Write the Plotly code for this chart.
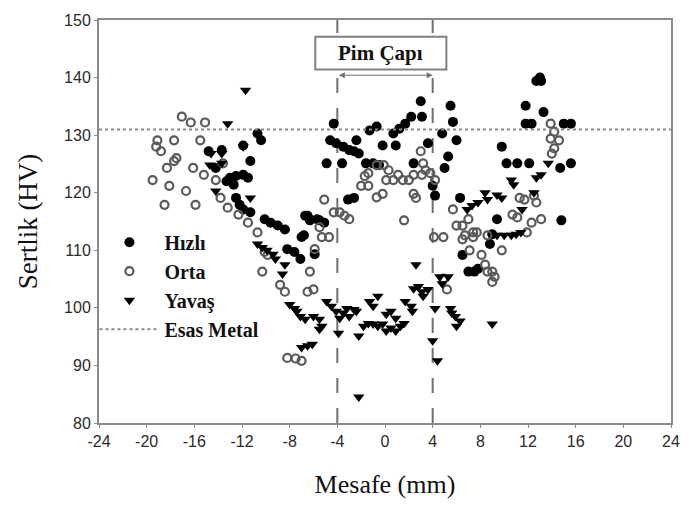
import plotly.graph_objects as go

# ---- data ----
hizli_x = [-14.8, -13.7, -11.9, -10.7, -10.4, -11.3, -13.0, -12.5, -11.9, -11.5, -12.7, -13.3, -14.2,
           -12.5, -12.2, -11.9, -11.3, -10.1, -9.6, -9.0, -8.4, -8.2, -7.6, -7.1, -7.0, -6.7, -6.3,
           -5.7, -5.1, -5.9, -6.5, -6.3, -5.5, -6.8,
           -4.3, -4.6, -4.1, -3.5, -3.0, -2.6, -2.2, -2.4, -4.9, -3.6, -1.6, -1.0, -0.5, -0.7, -1.3,
           -0.2, 0.9, 0.7, 1.2, 1.7, 2.2, 3.1, 3.0, 2.4, 3.6, 4.8, 4.0, 4.2, -2.6, -3.1,
           5.5, 5.7, 6.0, 5.3, 5.0, 6.3, 9.8, 10.2, 11.1, 12.1, 11.8, 12.7, 13.1, 13.0, 13.3, 11.8,
           12.3, 15.0, 15.6, 14.7, 15.6, 9.4, 14.8, 6.5, 7.0, 7.5, 7.8, 9.0, 8.8]
hizli_y = [127.2, 127.4, 128.2, 130.3, 129.1, 125.5, 122.6, 122.9, 123.1, 122.6, 121.4, 122.0, 124.3,
           119.1, 117.9, 117.1, 116.6, 115.4, 114.8, 114.3, 113.6, 110.2, 109.7, 108.5, 112.3, 116.0, 115.2,
           115.4, 114.8, 109.3, 116.0, 115.4, 115.2, 112.6,
           132.0, 129.1, 128.6, 128.0, 127.4, 127.2, 126.8, 129.1, 125.1, 125.1, 125.1, 125.1, 124.8, 131.5, 130.8,
           128.2, 128.2, 130.3, 131.1, 132.0, 133.2, 133.2, 135.9, 125.1, 128.6, 130.3, 121.2, 119.5, 119.1, 118.8,
           135.1, 132.3, 129.1, 126.3, 124.3, 119.1, 128.0, 125.1, 125.1, 125.1, 135.1, 139.4, 139.4, 140.0, 134.0, 132.0,
           132.0, 132.0, 132.0, 124.3, 125.1, 115.4, 115.2, 109.2, 106.3, 106.3, 106.8, 112.8, 111.1]

orta_x = [-17.05, -16.3, -15.1, -19.1, -17.7, -15.5, -19.2, -18.8, -17.5, -17.7, -18.3, -16.1, -15.2,
          -19.5, -18.1, -16.7, -14.2, -13.8, -18.5, -15.9, -13.6,
          -13.2, -12.3, -11.5, -10.7, -10.1, -9.85, -10.3, -8.8, -8.4, -8.2, -7.5, -7.0, -6.5, -6.0,
          -6.3, -5.9, -5.5, -5.3, -4.7, -4.3, -3.8, -3.4, -3.0,
          -1.4, -1.7, -2.0, -1.4, -0.7, -0.1, 0.3, 0.1, 0.7, 1.1, 1.5, 2.0, 2.4, 3.1, 3.4, 3.0, 3.2,
          3.8, 4.2, -0.7, -0.2, 2.4, 1.6, -5.1,
          2.6, 5.7, 4.1, 4.9, 6.5, 7.0, 7.4, 6.7, 8.6, 10.7, 11.1, 11.3, 11.7, 12.5, 12.7, 13.1, 12.3,
          13.9, 14.2, 13.9, 14.6, 14.2, 14.0, 6.0, 6.5, 7.4, 7.7, 7.1, 9.8, 11.9,
          8.1, 8.4, 8.6, 9.0, 9.2, 9.0, 5.2, 4.9]
orta_y = [133.2, 132.2, 132.2, 129.1, 129.1, 129.1, 128.0, 127.2, 126.0, 125.5, 124.3, 124.3, 123.1,
          122.2, 121.2, 120.3, 122.2, 119.1, 117.9, 117.9, 125.1,
          117.4, 116.2, 114.8, 113.1, 109.7, 109.2, 106.3, 104.0, 102.8, 91.3, 91.2, 90.8, 102.8, 103.2,
          106.3, 110.2, 114.0, 112.3, 112.3, 116.6, 116.6, 116.0, 115.4,
          123.4, 122.9, 121.2, 121.2, 124.8, 124.8, 123.9, 122.2, 122.2, 123.1, 122.2, 122.2, 123.1, 123.1, 123.9, 127.2, 125.1,
          123.4, 122.2, 119.2, 119.8, 119.8, 115.2, 118.8,
          119.1, 117.1, 112.3, 112.3, 114.3, 115.4, 113.1, 112.6, 112.6, 116.2, 115.7, 119.1, 118.8, 119.5, 118.3, 115.4, 114.8,
          132.0, 130.6, 129.4, 129.1, 127.7, 126.8, 114.3, 111.9, 112.3, 113.1, 110.0, 110.0, 113.1,
          109.2, 107.5, 106.3, 106.3, 105.4, 104.5, 103.2, 105.1]

yavas_x = [-11.7, -13.2, -11.9, -14.6, -13.7, -14.7, -13.7, -14.2, -11.3,
           -10.7, -10.3, -9.9, -9.4, -9.2, -8.4, -8.6, -8.0, -7.6, -7.4, -7.1, -6.7, -7.0, -6.5, -6.1,
           -6.0, -5.5, -5.5,
           -4.9, -4.5, -4.1, -3.8, -3.5, -3.2, -2.6, -3.0, -2.4, -3.9, -2.2, -2.2, -5.3,
           -1.3, -1.0, -0.6, -1.8, -1.4, -1.0, -0.6, -0.2, 0.1, 0.5, 0.9, 1.3, 1.6, 0.1, 0.5, 0.9,
           1.7, 2.2, 2.3, 2.6, 2.4, 2.8, 3.1, 3.6, 3.2,
           13.7, 13.1, 12.7, 10.6, 10.8, 8.4, 9.4, 9.8, 6.9, 7.3, 7.8, 8.6, 12.5, 11.5, 10.6, 11.0, 11.4,
           9.4, 10.0, 5.3, 4.6, 4.8, 5.5, 5.6, 5.9, 6.3, 6.0, 9.0, 4.4, 4.0, 4.2]
yavas_y = [137.8, 132.0, 128.0, 126.8, 126.8, 124.8, 125.1, 120.3, 119.1,
           111.1, 110.5, 110.0, 109.3, 108.5, 107.5, 105.9, 100.6, 99.9, 99.4, 98.5, 98.0, 93.1, 93.4, 93.7,
           98.5, 98.0, 96.3,
           101.1, 100.3, 99.4, 98.2, 99.1, 99.9, 99.7, 98.5, 99.4, 95.6, 95.1, 84.5, 96.8,
           101.1, 100.3, 102.0, 96.8, 97.3, 97.2, 96.8, 97.2, 96.0, 96.5, 96.0, 96.8, 97.3, 98.9, 99.4, 98.2,
           101.1, 100.3, 99.4, 107.5, 103.3, 103.7, 102.8, 103.2, 102.0,
           125.1, 123.1, 122.6, 122.2, 121.4, 120.0, 119.6, 119.1, 117.1, 117.8, 118.3, 118.8, 120.0, 117.1, 112.6, 112.8, 113.1,
           112.6, 112.6, 105.4, 105.4, 104.2, 99.9, 99.1, 98.5, 97.7, 96.8, 97.2, 90.8, 94.3, 99.9]

base_metal = 131
pin_left, pin_right = -4, 4
x_ticks = list(range(-24, 25, 4))
y_ticks = list(range(80, 151, 10))

serif = "Liberation Serif, Times New Roman, serif"
sans = "Liberation Sans, Arial, sans-serif"

fig = go.Figure()

fig.add_trace(go.Scatter(x=hizli_x, y=hizli_y, mode="markers", name="<b>Hızlı</b>",
                         marker=dict(symbol="circle", size=10, color="black",
                                     line=dict(width=0))))
fig.add_trace(go.Scatter(x=orta_x, y=orta_y, mode="markers", name="<b>Orta</b>",
                         marker=dict(symbol="circle-open", size=8, color="#5a5a5a",
                                     line=dict(width=2.2))))
fig.add_trace(go.Scatter(x=yavas_x, y=yavas_y, mode="markers", name="<b>Yavaş</b>",
                         marker=dict(symbol="triangle-down", size=10, color="black",
                                     line=dict(width=0))))
fig.add_trace(go.Scatter(x=[x_ticks[0], x_ticks[-1]], y=[base_metal, base_metal], mode="lines",
                         name="<b>Esas Metal</b>", line=dict(color="#8a8a8a", width=2, dash="dot")))

# pin diameter dashed lines
for xv in (pin_left, pin_right):
    fig.add_shape(type="line", x0=xv, x1=xv, y0=80, y1=150, xref="x", yref="y",
                  line=dict(color="#707070", width=2, dash="longdash"), layer="below")

# Pim Çapı box
fig.add_shape(type="rect", x0=-5.85, x1=5.15, y0=141.4, y1=147.1, xref="x", yref="y",
              line=dict(color="#808080", width=2), fillcolor="white", layer="above")
fig.add_annotation(x=-0.35, y=144.25, xref="x", yref="y", text="<b>Pim Çapı</b>",
                   showarrow=False, font=dict(family=serif, size=21, color="#111"))
fig.add_annotation(x=pin_right, y=140.4, ax=pin_left, ay=140.4, xref="x", yref="y",
                   axref="x", ayref="y", text="", showarrow=True, arrowhead=2, arrowsize=1,
                   arrowwidth=1.2, arrowside="end+start", arrowcolor="#707070")

fig.update_layout(
    width=692, height=512,
    margin=dict(l=99, r=13, t=15, b=89),
    plot_bgcolor="white", paper_bgcolor="white",
    showlegend=True,
    legend=dict(x=-0.008, y=0.497, xanchor="left", yanchor="top",
                bgcolor="rgba(0,0,0,0)", itemwidth=60,
                font=dict(family=serif, size=20, color="#111")),
    xaxis=dict(range=[-24, 24], tickvals=x_ticks, ticktext=[str(t) for t in x_ticks],
               showgrid=False, zeroline=False, showline=True, linecolor="#8a8a8a", linewidth=2,
               mirror=True, ticks="outside", ticklen=3, tickcolor="#8a8a8a",
               tickfont=dict(family=sans, size=16, color="#2a2a2a"),
               title=dict(text="Mesafe (mm)", font=dict(family=serif, size=26, color="#111"),
                          standoff=26)),
    yaxis=dict(range=[80, 150], tickvals=y_ticks,
               showgrid=False, zeroline=False, showline=True, linecolor="#8a8a8a", linewidth=2,
               mirror=True, ticks="outside", ticklen=3, tickcolor="#8a8a8a",
               tickfont=dict(family=sans, size=16, color="#2a2a2a"),
               title=dict(text="Sertlik (HV)", font=dict(family=serif, size=27, color="#111"),
                          standoff=19)),
)

fig.for_each_trace(lambda t: t.update(legendgroup=t.name))
fig.update_layout(legend_tracegroupgap=0)

fig.write_html("out.html")
